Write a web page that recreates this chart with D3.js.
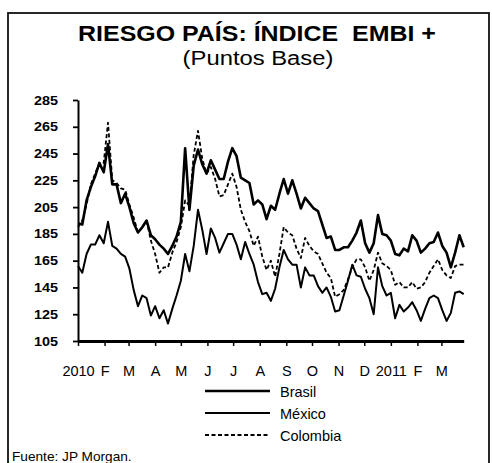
<!DOCTYPE html>
<html>
<head>
<meta charset="utf-8">
<script src="https://cdn.jsdelivr.net/npm/d3@7"></script>
<style>
  body { margin: 0; background: #fff; }
  svg { display: block; font-family: "Liberation Sans", Arial, sans-serif; }
</style>
</head>
<body>
<script>
// series sampled every 5 days from 1 Jan 2010
var startDate = new Date(2010, 0, 1)
var endDate = new Date(2011, 2, 27)

var brasil = [193,192,210,220,228,238,231,252,222,222,208,215,205,193,186,190,195,184,181,177,
  174,170,176,183,194,249,203,236,248,237,230,240,233,226,226,239,249,243,227,225,
  223,207,210,207,196,206,203,215,226,215,225,215,204,212,208,204,202,192,182,183,
  173,173,175,175,180,186,195,178,171,178,199,185,184,180,170,169,174,172,184,180,
  171,174,178,179,186,176,171,160,171,184,175]

var mexico = [161,156,170,177,177,184,178,194,176,174,170,168,159,143,131,139,137,124,131,122,
  128,118,129,139,150,170,157,176,203,188,170,189,182,171,178,185,185,177,166,179,
  170,162,149,140,141,135,144,160,173,166,162,162,145,160,154,154,146,141,145,138,
  127,128,139,150,162,154,153,144,137,125,160,146,139,141,122,132,127,130,134,128,
  120,129,137,139,137,128,120,126,141,142,140]

var colombia = [190,195,207,222,230,238,238,268,225,223,219,218,207,197,186,190,195,180,170,156,
  160,160,171,179,190,210,206,244,262,241,230,235,226,213,214,222,230,220,203,194,
  187,176,183,168,158,165,153,170,190,186,184,174,167,182,176,172,170,163,156,152,
  138,140,143,151,160,166,166,160,150,158,171,163,161,158,147,149,145,145,149,144,
  145,149,156,161,166,158,154,152,161,162,162]

var yTicks = [105, 125, 145, 165, 185, 205, 225, 245, 265, 285]
var monthLabels = ["2010", "F", "M", "A", "M", "J", "J", "A", "S", "O", "N", "D", "2011", "F", "M"]
var seriesNames = ["Brasil", "México", "Colombia"]

var dates = brasil.map(function (d, i) { return d3.timeDay.offset(startDate, i * 5) })

var width = 492
var height = 463

var svg = d3.select("body")
    .append("svg")
    .attr("width", width)
    .attr("height", height)

// stretch text horizontally, the scan is wider than the font
function stretch(sel, k) {
    sel.each(function () {
        var len = this.getComputedTextLength()
        d3.select(this).attr("textLength", len * k).attr("lengthAdjust", "spacingAndGlyphs")
    })
}

// frame
svg.append("rect")
    .attr("x", 8).attr("y", 13)
    .attr("width", 481).attr("height", 470)
    .attr("fill", "none")
    .attr("stroke", "#111")
    .attr("stroke-width", 1.8)

svg.append("text")
    .attr("x", 257).attr("y", 41)
    .attr("text-anchor", "middle")
    .attr("font-size", 21.5).attr("font-weight", "bold")
    .attr("fill", "#000")
    .style("white-space", "pre")
    .text("RIESGO PAÍS: ÍNDICE  EMBI +")
    .call(stretch, 1.16)

svg.append("text")
    .attr("x", 258).attr("y", 64.5)
    .attr("text-anchor", "middle")
    .attr("font-size", 19.5)
    .attr("fill", "#000")
    .text("(Puntos Base)")
    .call(stretch, 1.22)

var x = d3.scaleTime()
    .domain([startDate, endDate])
    .range([78, 463.7])

var y = d3.scaleLinear()
    .domain([105, 285])
    .range([341, 100])

var yAxis = svg.append("g")
    .attr("transform", "translate(78,0)")
    .call(d3.axisLeft(y).tickValues(yTicks).tickSize(5).tickPadding(15).tickSizeOuter(0))

yAxis.select(".domain").attr("stroke", "#000").attr("stroke-width", 2)
yAxis.selectAll(".tick line").attr("stroke", "#000").attr("stroke-width", 1.8)
yAxis.selectAll(".tick text")
    .attr("font-size", 12.5).attr("font-weight", "bold")
    .attr("font-family", "'Liberation Sans', Arial, sans-serif")
    .attr("fill", "#000")
    .call(stretch, 1.15)

var months = d3.timeMonth.range(startDate, endDate)

var xAxis = svg.append("g")
    .attr("transform", "translate(0,341)")
    .call(d3.axisBottom(x)
        .tickValues(months)
        .tickSize(5)
        .tickPadding(20)
        .tickSizeOuter(0)
        .tickFormat(function (d, i) { return monthLabels[i] }))

xAxis.select(".domain").attr("stroke", "#000").attr("stroke-width", 3)
xAxis.selectAll(".tick line").attr("stroke", "#000").attr("stroke-width", 1.5)
xAxis.selectAll(".tick text")
    .attr("font-size", 14.5)
    .attr("font-family", "'Liberation Sans', Arial, sans-serif")
    .attr("fill", "#000")

var line = d3.line()
    .x(function (d) { return x(d[0]) })
    .y(function (d) { return y(d[1]) })

var styles = [
    { data: mexico, width: 2, dash: null },
    { data: colombia, width: 1.8, dash: "4,2.5" },
    { data: brasil, width: 2.6, dash: null }
]

styles.forEach(function (s) {
    svg.append("path")
        .datum(s.data.map(function (v, i) { return [dates[i], v] }))
        .attr("fill", "none")
        .attr("stroke", "#000")
        .attr("stroke-width", s.width)
        .attr("stroke-linejoin", "round")
        .attr("stroke-dasharray", s.dash)
        .attr("d", line)
})

// legend
var legendStyle = [
    { width: 2.6, dash: null },
    { width: 2, dash: null },
    { width: 1.8, dash: "4,2.5" }
]

var legend = svg.append("g")
    .selectAll("g")
    .data(seriesNames)
    .enter()
    .append("g")
    .attr("transform", function (d, i) { return "translate(0," + (391 + i * 22) + ")" })

legend.append("line")
    .attr("x1", 205).attr("x2", 270)
    .attr("stroke", "#000")
    .attr("stroke-width", function (d, i) { return legendStyle[i].width })
    .attr("stroke-dasharray", function (d, i) { return legendStyle[i].dash })

legend.append("text")
    .attr("x", 280).attr("y", 6)
    .attr("font-size", 14.5)
    .attr("fill", "#000")
    .text(function (d) { return d })

svg.append("text")
    .attr("x", 12).attr("y", 461)
    .attr("font-size", 13)
    .attr("fill", "#000")
    .text("Fuente: JP Morgan.")
    .call(stretch, 1.05)
</script>
</body>
</html>
